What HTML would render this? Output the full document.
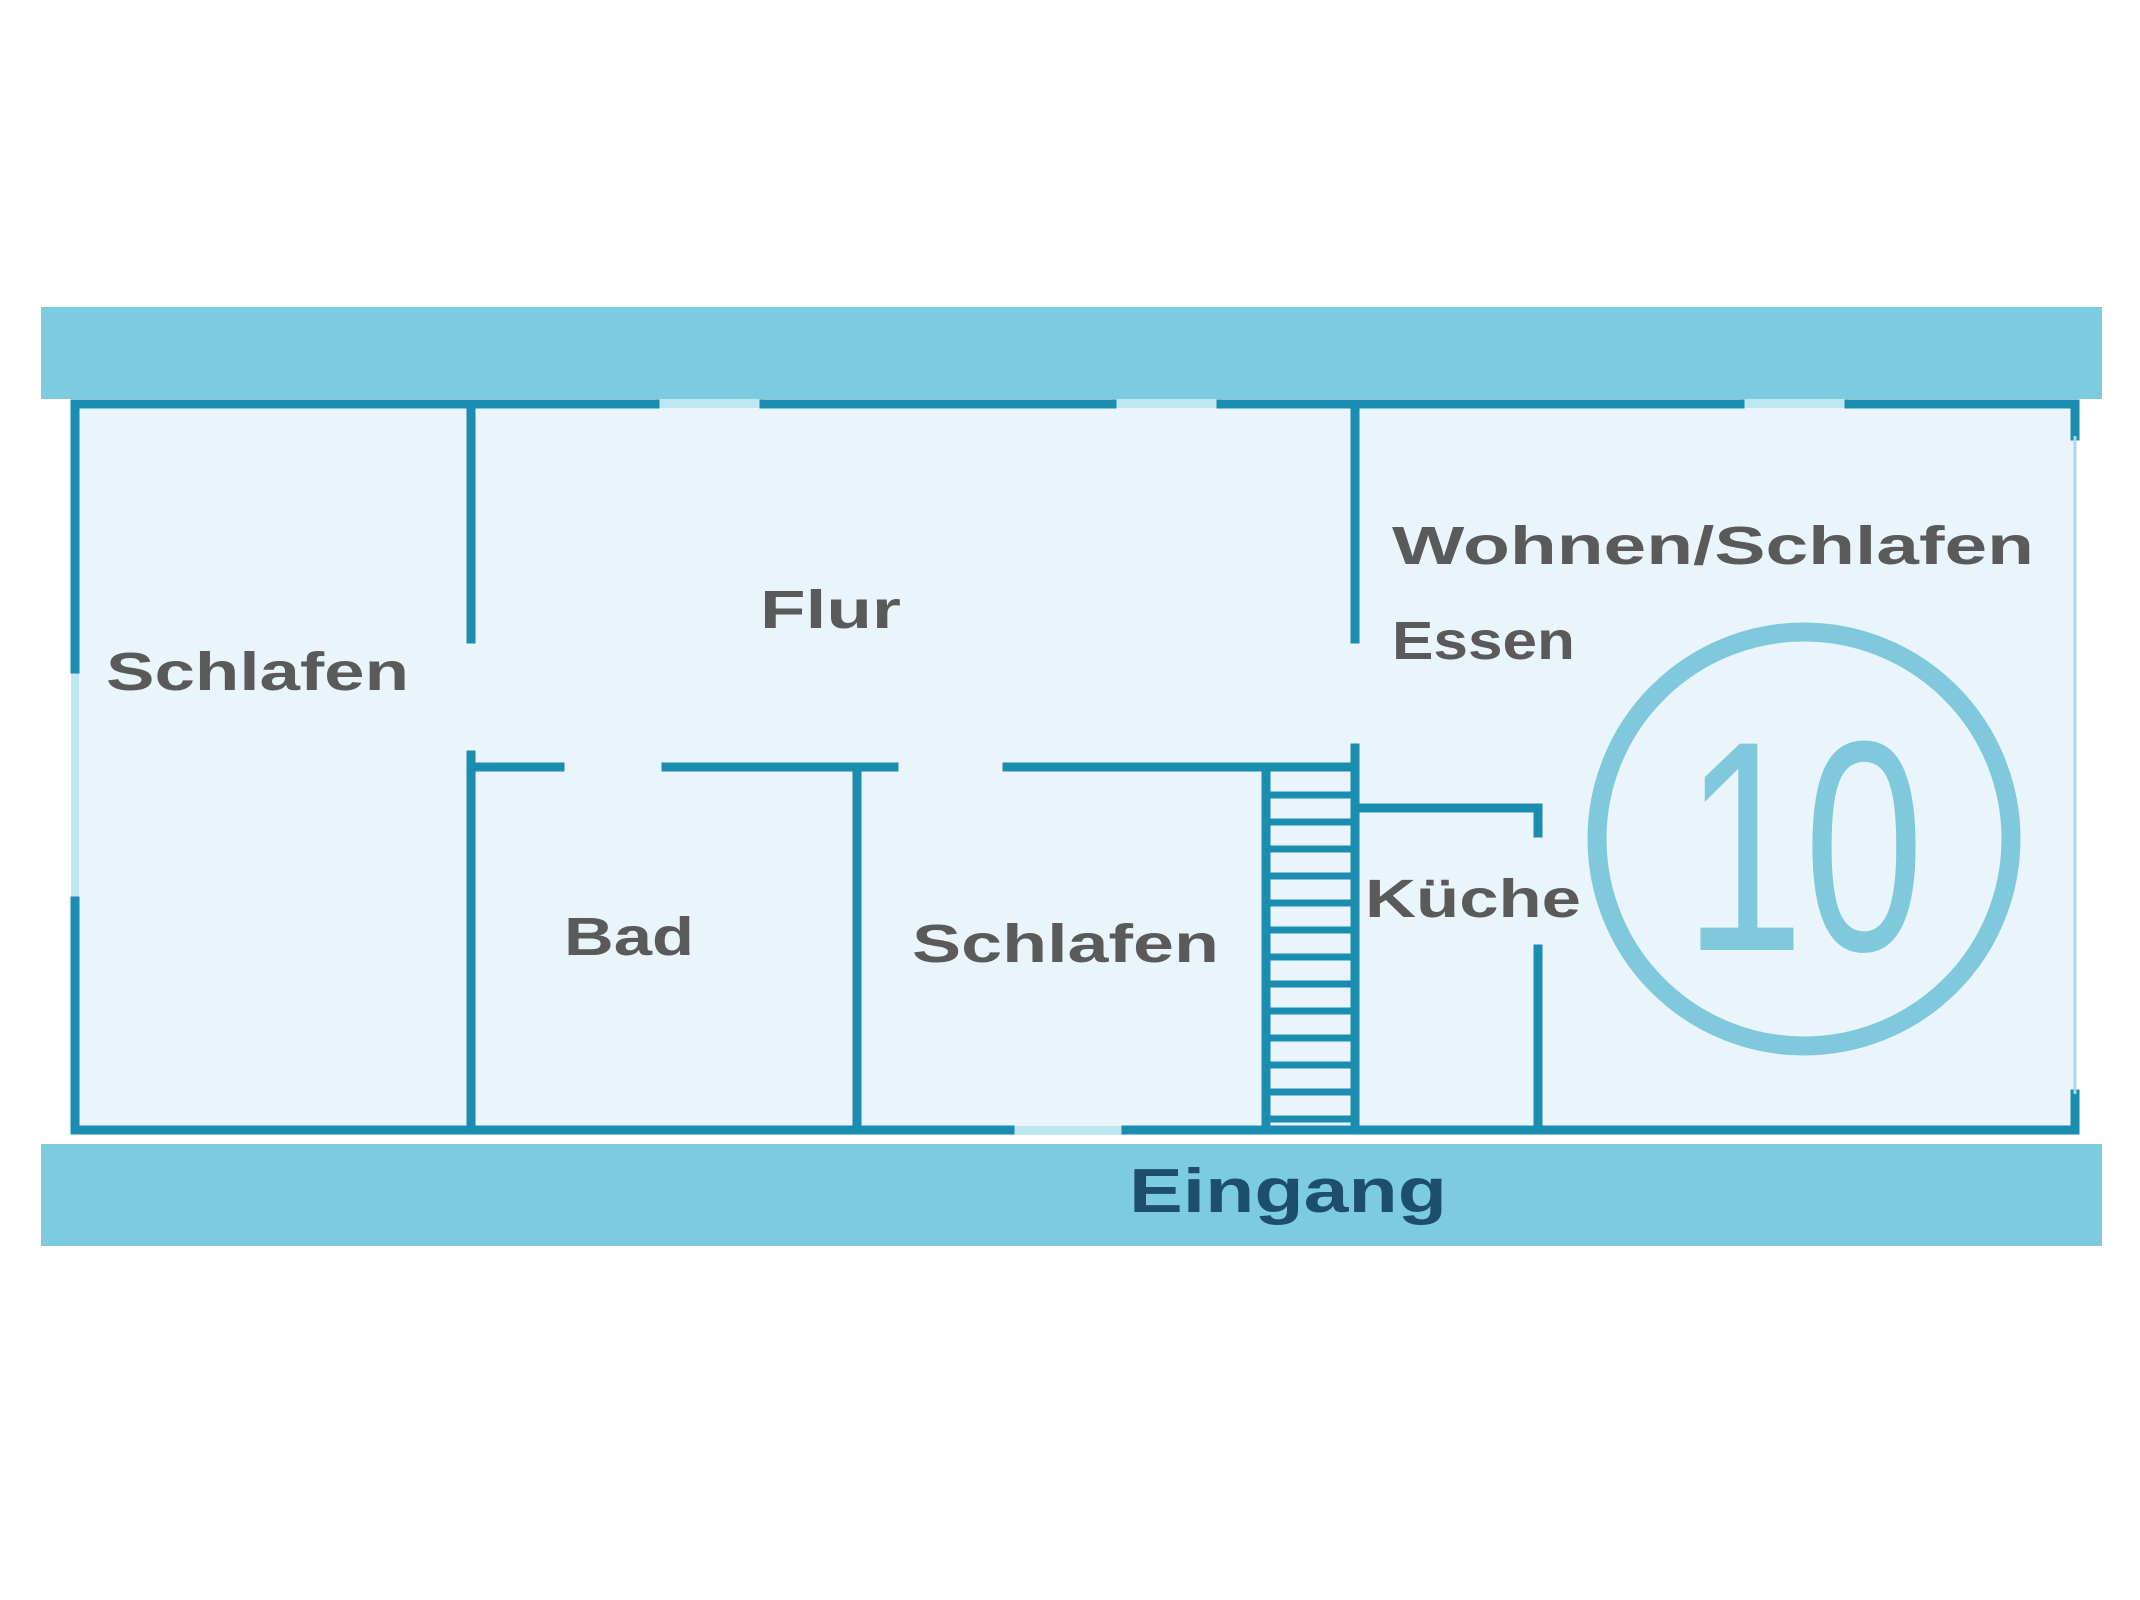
<!DOCTYPE html>
<html><head><meta charset="utf-8"><style>html,body{margin:0;padding:0;background:#fff}svg{display:block}</style></head>
<body>
<svg width="2140" height="1600" viewBox="0 0 2140 1600" xmlns="http://www.w3.org/2000/svg">
<rect x="0" y="0" width="2140" height="1600" fill="#ffffff"/>
<rect x="41" y="307" width="2061" height="92" fill="#7ccbe0"/>
<rect x="41" y="1144" width="2061" height="102" fill="#7ccbe0"/>
<rect x="75" y="404" width="2000" height="726" fill="#e9f5fa"/>
<!-- window fills -->
<g fill="#bfe7f1">
<rect x="655" y="399" width="109" height="9"/>
<rect x="1112" y="399" width="109" height="9"/>
<rect x="1740" y="399" width="109" height="9"/>
<rect x="1010" y="1126" width="116" height="9"/>
<rect x="71" y="669" width="8" height="232"/>
</g>
<g stroke="#1a8db0" stroke-width="9" fill="none" stroke-linecap="square">
<line x1="75" y1="404" x2="655" y2="404"/>
<line x1="764" y1="404" x2="1112" y2="404"/>
<line x1="1221" y1="404" x2="1740" y2="404"/>
<line x1="1849" y1="404" x2="2075" y2="404"/>
<line x1="75" y1="1130" x2="1010" y2="1130"/>
<line x1="1126" y1="1130" x2="2075" y2="1130"/>
<line x1="75" y1="404" x2="75" y2="669"/>
<line x1="75" y1="901" x2="75" y2="1130"/>
<line x1="2075" y1="404" x2="2075" y2="436"/>
<line x1="2075" y1="1094" x2="2075" y2="1130"/>
<line x1="471" y1="404" x2="471" y2="639"/>
<line x1="471" y1="755" x2="471" y2="1130"/>
<line x1="1355" y1="404" x2="1355" y2="639"/>
<line x1="1355" y1="748" x2="1355" y2="1130"/>
<line x1="471" y1="767" x2="560" y2="767"/>
<line x1="666" y1="767" x2="894" y2="767"/>
<line x1="1007" y1="767" x2="1355" y2="767"/>
<line x1="857" y1="767" x2="857" y2="1130"/>
<line x1="1355" y1="808" x2="1538" y2="808"/>
<line x1="1538" y1="808" x2="1538" y2="833"/>
<line x1="1538" y1="949" x2="1538" y2="1130"/>
<line x1="1266" y1="767" x2="1266" y2="1130"/>
</g>
<line x1="2075" y1="436" x2="2075" y2="1094" stroke="#a9d9e8" stroke-width="3"/>
<g stroke="#1a8db0" stroke-width="7">
<line x1="1266" y1="795" x2="1355" y2="795"/>
<line x1="1266" y1="822" x2="1355" y2="822"/>
<line x1="1266" y1="849" x2="1355" y2="849"/>
<line x1="1266" y1="876" x2="1355" y2="876"/>
<line x1="1266" y1="903" x2="1355" y2="903"/>
<line x1="1266" y1="930" x2="1355" y2="930"/>
<line x1="1266" y1="957" x2="1355" y2="957"/>
<line x1="1266" y1="984" x2="1355" y2="984"/>
<line x1="1266" y1="1011" x2="1355" y2="1011"/>
<line x1="1266" y1="1038" x2="1355" y2="1038"/>
<line x1="1266" y1="1065" x2="1355" y2="1065"/>
<line x1="1266" y1="1092" x2="1355" y2="1092"/>
<line x1="1266" y1="1119" x2="1355" y2="1119"/>
</g>
<circle cx="1804" cy="839" r="207" fill="none" stroke="#80c9dd" stroke-width="19"/>
<text x="1804" y="950" font-family="Liberation Sans, sans-serif" font-size="300" fill="#80c9dd" text-anchor="middle" textLength="240" lengthAdjust="spacingAndGlyphs">10</text>
<g font-family="Liberation Sans, sans-serif" font-size="54" fill="#5a5a5a" font-weight="bold">
<text x="106" y="690" textLength="303" lengthAdjust="spacingAndGlyphs">Schlafen</text>
<text x="760" y="628" textLength="141" lengthAdjust="spacingAndGlyphs">Flur</text>
<text x="1392" y="564" textLength="642" lengthAdjust="spacingAndGlyphs">Wohnen/Schlafen</text>
<text x="1392" y="659" textLength="183" lengthAdjust="spacingAndGlyphs">Essen</text>
<text x="564" y="955" textLength="130" lengthAdjust="spacingAndGlyphs">Bad</text>
<text x="912" y="962" textLength="307" lengthAdjust="spacingAndGlyphs">Schlafen</text>
<text x="1365" y="917" textLength="216" lengthAdjust="spacingAndGlyphs">Küche</text>
</g>
<text x="1129" y="1212" font-family="Liberation Sans, sans-serif" font-size="62" font-weight="bold" fill="#1d4f6c" textLength="318" lengthAdjust="spacingAndGlyphs">Eingang</text>
</svg>
</body></html>
